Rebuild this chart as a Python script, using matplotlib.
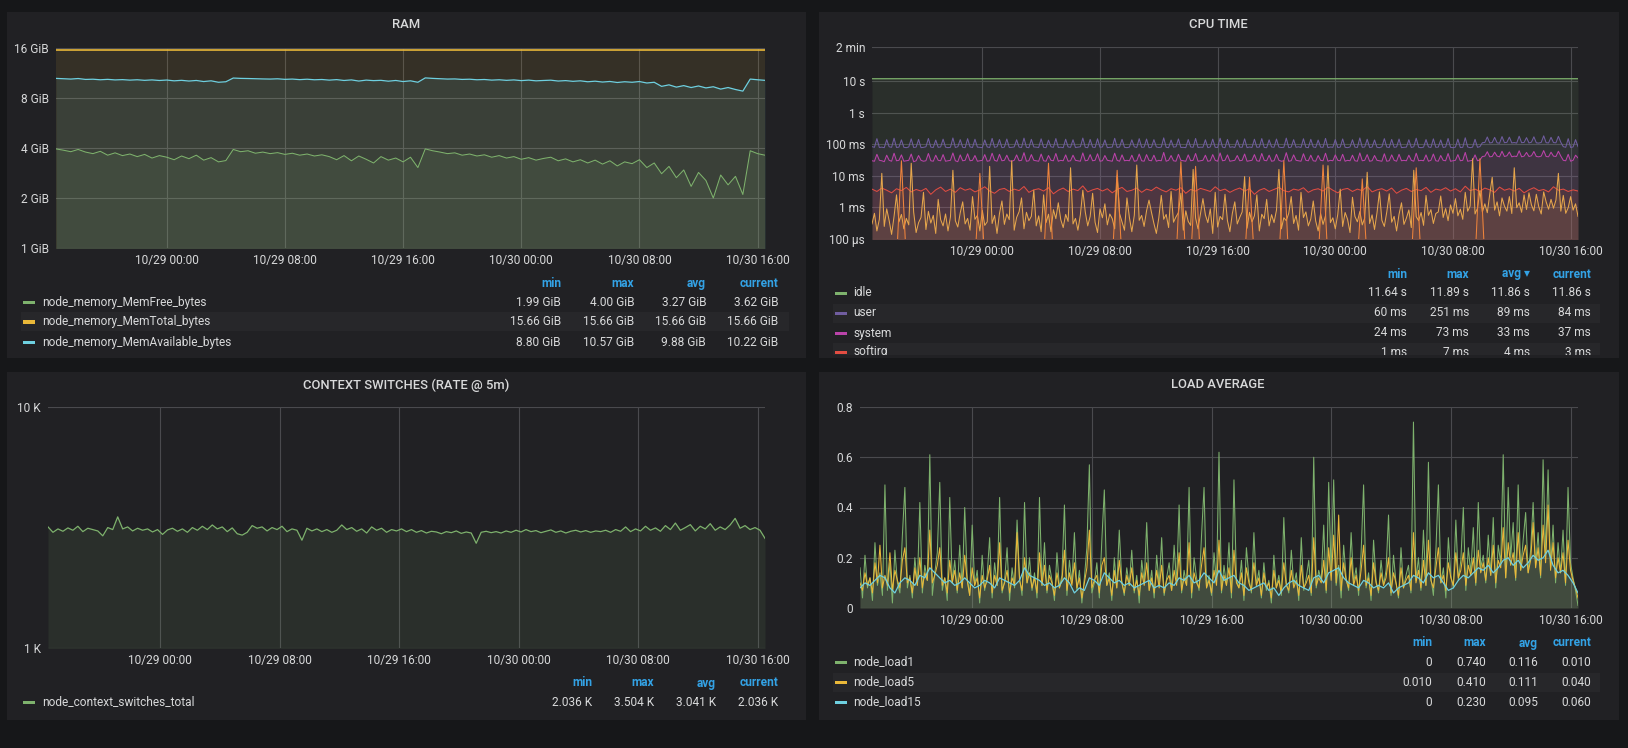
"""Grafana-style node exporter dashboard: RAM, CPU time, context switches, load average."""
from datetime import datetime

import numpy as np
import matplotlib
matplotlib.use("Agg")
import matplotlib.pyplot as plt
import matplotlib.dates as mdates
from matplotlib.patches import Rectangle
from matplotlib.ticker import FixedLocator, FixedFormatter, NullLocator

# ---------------------------------------------------------------- data
T_START = datetime(2019, 10, 28, 16, 30)
T_END = datetime(2019, 10, 30, 16, 30)

# RAM (GiB), one sample every 30 min
mem_total = [15.66, 15.66]
mem_available = [
    10.50, 10.45, 10.40, 10.48, 10.35, 10.38, 10.30, 10.36, 10.28, 10.32,
    10.25, 10.30, 10.22, 10.28, 10.20, 10.26, 10.15, 10.22, 10.12, 10.20,
    10.05, 10.15, 9.95, 10.02, 10.55, 10.50, 10.48, 10.45, 10.42, 10.40,
    10.44, 10.36, 10.40, 10.32, 10.38, 10.30, 10.34, 10.25, 10.32, 10.20,
    10.28, 10.12, 10.25, 10.18, 10.22, 10.10, 10.20, 10.05, 10.15, 9.95,
    10.57, 10.50, 10.45, 10.40, 10.42, 10.35, 10.38, 10.30, 10.34, 10.25,
    10.30, 10.22, 10.28, 10.18, 10.25, 10.15, 10.20, 10.24, 10.12, 10.18,
    10.08, 10.15, 10.02, 10.10, 9.98, 10.06, 9.92, 10.02, 9.95, 10.05,
    9.85, 9.95, 9.40, 9.60, 9.30, 9.50, 9.25, 9.45, 9.20, 9.35,
    9.05, 9.25, 9.00, 8.80, 10.40, 10.30, 10.22,
]
mem_free = [
    3.95, 3.88, 3.80, 3.92, 3.78, 3.70, 3.82, 3.62, 3.74, 3.60,
    3.68, 3.55, 3.66, 3.48, 3.60, 3.52, 3.40, 3.58, 3.45, 3.62,
    3.38, 3.50, 3.30, 3.36, 3.92, 3.80, 3.85, 3.72, 3.78, 3.70,
    3.75, 3.66, 3.72, 3.62, 3.68, 3.58, 3.64, 3.55, 3.40, 3.60,
    3.35, 3.58, 3.42, 3.25, 3.55, 3.38, 3.48, 3.30, 3.52, 3.05,
    3.95, 3.85, 3.78, 3.70, 3.74, 3.62, 3.68, 3.58, 3.64, 3.52,
    3.60, 3.48, 3.55, 3.42, 3.50, 3.38, 3.46, 3.52, 3.35, 3.44,
    3.30, 3.40, 3.25, 3.38, 3.20, 3.35, 3.12, 3.30, 3.22, 3.40,
    3.05, 3.25, 2.80, 3.10, 2.65, 2.95, 2.35, 2.85, 2.55, 2.00,
    2.75, 2.40, 2.70, 2.10, 3.85, 3.70, 3.62,
]

# CPU time: idle every 4 h, user/system/iowait every 10 min, the rest every 20 min
cpu_idle_s = [11.86, 11.87, 11.85, 11.86, 11.88, 11.86, 11.85,
              11.87, 11.86, 11.84, 11.86, 11.87, 11.86]
cpu_user_ms = [
    84, 80, 150, 79, 81, 78, 140, 83, 80, 155,
    79, 81, 138, 80, 78, 82, 148, 79, 81, 142,
    78, 80, 83, 152, 81, 79, 136, 80, 82, 145,
    81, 78, 80, 158, 79, 83, 140, 80, 78, 150,
    82, 79, 144, 81, 80, 78, 137, 82, 79, 153,
    80, 83, 141, 78, 81, 146, 79, 80, 82, 139,
    81, 79, 156, 80, 78, 143, 82, 81, 79, 148,
    80, 78, 135, 83, 80, 151, 79, 81, 78, 144,
    82, 80, 139, 79, 81, 83, 157, 80, 78, 142,
    81, 79, 149, 80, 82, 137, 78, 80, 81, 154,
    79, 82, 143, 80, 78, 81, 138, 83, 79, 150,
    80, 81, 146, 78, 80, 140, 82, 79, 81, 159,
    80, 78, 136, 81, 83, 147, 79, 80, 78, 141,
    82, 80, 152, 79, 81, 80, 139, 78, 82, 145,
    80, 79, 155, 81, 78, 142, 80, 83, 79, 137,
    81, 80, 148, 78, 82, 79, 144, 80, 81, 151,
    79, 78, 138, 82, 80, 146, 81, 79, 80, 156,
    78, 81, 140, 80, 83, 79, 149, 80, 78, 143,
    82, 79, 136, 81, 80, 153, 78, 82, 80, 141,
    79, 81, 147, 80, 78, 82, 139, 81, 79, 158,
    80, 82, 144, 79, 81, 137, 80, 78, 83, 150,
    81, 79, 142, 80, 82, 146, 78, 80, 81, 139,
    79, 83, 155, 80, 78, 81, 141, 82, 79, 148,
    80, 81, 137, 79, 82, 152, 80, 78, 81, 145,
    79, 80, 160, 82, 78, 81, 143, 80, 84, 112,
    114, 170, 110, 113, 165, 111, 108, 175, 112, 115,
    168, 110, 113, 109, 180, 112, 114, 162, 110, 116,
    172, 111, 109, 114, 185, 112, 110, 166, 113, 111,
    178, 115, 84, 80, 150, 79, 82, 140, 84,
]
cpu_system_ms = [
    30, 29, 48, 31, 30, 28, 45, 31, 29, 52,
    30, 31, 46, 29, 30, 31, 49, 28, 30, 44,
    31, 29, 30, 51, 30, 29, 45, 31, 30, 47,
    29, 30, 31, 53, 30, 28, 46, 30, 31, 50,
    30, 31, 44, 29, 30, 31, 47, 29, 30, 52,
    31, 29, 48, 30, 31, 45, 30, 29, 31, 46,
    30, 31, 54, 29, 30, 47, 31, 30, 29, 49,
    30, 29, 44, 31, 30, 51, 29, 31, 30, 46,
    29, 30, 45, 31, 30, 29, 53, 30, 31, 47,
    30, 31, 50, 29, 30, 44, 31, 30, 29, 52,
    31, 29, 46, 30, 31, 30, 45, 29, 30, 49,
    30, 29, 47, 31, 30, 45, 29, 31, 30, 55,
    29, 31, 44, 30, 29, 48, 31, 30, 29, 46,
    30, 31, 51, 29, 30, 31, 45, 29, 30, 47,
    31, 29, 53, 30, 31, 46, 29, 30, 31, 44,
    30, 31, 49, 29, 30, 31, 47, 30, 29, 51,
    31, 30, 45, 29, 30, 48, 31, 29, 30, 54,
    29, 30, 46, 31, 30, 29, 50, 31, 30, 45,
    30, 29, 44, 31, 30, 52, 29, 31, 30, 46,
    31, 30, 48, 29, 31, 30, 45, 30, 29, 53,
    30, 31, 47, 29, 30, 44, 31, 30, 29, 50,
    29, 30, 46, 31, 29, 48, 30, 31, 30, 45,
    31, 29, 52, 30, 31, 30, 46, 29, 31, 49,
    30, 29, 44, 31, 30, 51, 29, 30, 31, 47,
    30, 31, 55, 29, 30, 31, 46, 30, 32, 41,
    42, 58, 40, 41, 56, 42, 40, 60, 41, 43,
    57, 40, 42, 41, 62, 40, 42, 55, 41, 43,
    59, 41, 40, 42, 63, 41, 40, 56, 42, 41,
    60, 42, 31, 30, 48, 29, 31, 45, 37,
]
cpu_softirq_ms = [
    3.8, 3.2, 4.1, 3.5, 2.9, 3.9, 3.4, 4.3, 3.1, 3.7,
    3.3, 4.0, 2.6, 3.6, 4.4, 3.2, 3.8, 3.0, 4.2, 3.5,
    3.9, 3.1, 3.6, 4.5, 3.3, 2.8, 3.7, 4.0, 3.2, 3.8,
    3.4, 4.6, 3.0, 3.6, 3.9, 3.3, 4.2, 2.7, 3.5, 4.1,
    3.2, 3.8, 3.4, 4.8, 3.1, 3.6, 4.0, 3.3, 3.9, 2.9,
    3.7, 4.3, 3.2, 3.5, 4.1, 3.0, 3.8, 3.4, 4.4, 3.6,
    3.1, 3.9, 3.5, 4.2, 2.8, 3.7, 3.3, 4.0, 3.6, 3.2,
    4.5, 3.4, 3.8, 3.0, 3.6, 4.1, 3.3, 3.9, 2.6, 3.5,
    4.0, 3.2, 3.7, 4.3, 3.4, 3.1, 3.8, 3.5, 4.2, 3.0,
    3.6, 3.9, 3.3, 4.4, 3.5, 2.9, 3.7, 4.0, 3.2, 3.8,
    3.4, 4.6, 3.1, 3.6, 3.9, 3.3, 4.1, 2.8, 3.5, 4.0,
    3.2, 3.7, 3.4, 4.3, 3.0, 3.8, 3.5, 4.2, 3.3, 3.9,
    3.1, 4.7, 3.4, 3.8, 3.2, 4.1, 3.6, 3.0, 4.4, 3.5,
    3.9, 3.3, 4.0, 2.9, 3.6, 4.2, 3.4, 3.7, 3.1, 4.5,
    3.5, 3.8, 3.2, 3.6, 3.3,
]
cpu_iowait_us = [
    300, 650, 180, 420, 12000, 250, 900, 380, 140, 520,
    2500, 350, 600, 210, 450, 280, 25000, 700, 160, 330,
    480, 3000, 200, 750, 320, 560, 150, 1800, 410, 260,
    620, 180, 500, 15000, 380, 240, 680, 1500, 300, 450,
    190, 2200, 420, 560, 180, 800, 270, 350, 20000, 310,
    560, 150, 640, 1600, 290, 620, 410, 30000, 190, 480,
    730, 2000, 210, 700, 380, 520, 3500, 260, 540, 170,
    2500, 330, 610, 170, 850, 440, 1400, 410, 230, 600,
    360, 18000, 300, 450, 190, 580, 3500, 720, 260, 520,
    2800, 340, 160, 900, 470, 1300, 280, 620, 440, 210,
    10000, 630, 350, 190, 2000, 480, 170, 560, 22000, 390,
    560, 250, 780, 1700, 700, 310, 150, 470, 2400, 420,
    600, 230, 3200, 340, 500, 680, 2800, 190, 780, 360,
    270, 16000, 460, 210, 640, 1900, 580, 330, 900, 150,
    3000, 240, 520, 410, 2600, 380, 170, 650, 1500, 300,
    480, 720, 9500, 220, 700, 350, 540, 2500, 180, 610,
    440, 1800, 260, 590, 330, 820, 16000, 210, 470, 380,
    650, 2200, 310, 560, 190, 3000, 480, 720, 260, 430,
    1600, 370, 180, 640, 290, 540, 21000, 330, 470, 210,
    600, 3800, 250, 690, 420, 160, 2100, 520, 350, 740,
    280, 460, 13000, 310, 580, 200, 670, 3100, 390, 250,
    720, 2700, 340, 520, 180, 610, 1400, 290, 460, 830,
    230, 15000, 510, 380, 690, 270, 2400, 560, 850, 310,
    640, 720, 2300, 480, 920, 380, 1200, 650, 1900, 540,
    880, 420, 3000, 760, 1100, 35000, 620, 950, 3400, 710,
    1300, 680, 2600, 9000, 820, 1500, 540, 2000, 1100, 760,
    2200, 640, 18000, 980, 1400, 700, 2500, 860, 2900, 1200,
    780, 2600, 1050, 620, 3100, 1500, 880, 1800, 940, 1700,
    12000, 760, 2400, 650, 980, 2200, 820, 1300, 520,
]
cpu_irq_us = [
    20, 20, 20, 20, 20, 20, 30000, 20, 20, 20,
    20, 20, 20, 20, 20, 20, 20, 20, 20, 20,
    20, 20, 12000, 20, 20, 20, 20, 20, 20, 20,
    20, 20, 20, 20, 20, 20, 25000, 20, 20, 20,
    20, 20, 20, 20, 20, 20, 20, 20, 20, 20,
    15000, 20, 20, 20, 20, 20, 20, 20, 20, 20,
    20, 20, 20, 28000, 20, 20, 20000, 20, 20, 20,
    20, 20, 20, 20, 20, 20, 20, 9000, 20, 20,
    20, 20, 20, 20, 30000, 20, 20, 20, 20, 20,
    20, 20, 22000, 20, 20, 20, 20, 20, 20, 20,
    8000, 20, 20, 20, 20, 20, 20, 20, 20, 20,
    20, 18000, 20, 20, 20, 20, 20, 20, 20, 20,
    20, 20, 20, 20, 35000, 20, 20, 20, 20, 20,
    20, 20, 20, 20, 20, 20, 20, 20, 20, 20,
    20, 20, 20, 20, 20,
]

# context switches (K/s), one sample every 20 min
ctx_k = [
    3.18, 3.02, 3.12, 3.05, 3.15, 3.08, 3.20, 3.04, 3.14, 3.10,
    3.06, 2.92, 3.16, 3.10, 3.50, 3.12, 3.18, 3.06, 3.14, 3.08,
    3.12, 3.03, 3.10, 2.96, 3.09, 3.14, 3.05, 3.12, 3.02, 3.16,
    3.08, 3.20, 3.10, 3.24, 3.12, 3.18, 3.04, 3.15, 2.98, 2.94,
    3.02, 3.22, 3.14, 3.18, 3.06, 3.16, 3.10, 3.20, 3.04, 3.12,
    3.08, 2.80, 3.14, 3.06, 3.12, 3.04, 3.10, 3.02, 3.08, 3.24,
    3.10, 3.16, 3.05, 3.12, 3.00, 3.18, 3.08, 3.14, 3.02, 3.10,
    3.06, 3.12, 3.04, 3.10, 3.02, 3.07, 3.00, 3.05, 3.03, 2.98,
    3.04, 3.01, 3.06, 2.99, 3.03, 3.00, 2.72, 3.02, 3.05, 3.01,
    3.04, 3.00, 3.06, 3.02, 3.08, 3.03, 3.10, 3.04, 3.07, 3.01,
    3.05, 3.09, 3.02, 3.06, 3.00, 3.05, 3.08, 3.03, 3.07, 3.02,
    3.06, 3.04, 3.08, 3.02, 3.10, 3.05, 3.18, 3.04, 3.12, 3.06,
    3.20, 3.08, 3.15, 3.05, 3.22, 3.10, 3.30, 3.08, 3.16, 3.25,
    3.06, 3.20, 3.12, 3.28, 3.08, 3.18, 3.10, 3.24, 3.45, 3.14,
    3.22, 3.10, 3.16, 3.08, 2.85,
]

# load average: load1/load5 every 10 min, load15 every 20 min
load1 = [
    0.16, 0.04, 0.21, 0.08, 0.12, 0.03, 0.26, 0.09, 0.14, 0.05,
    0.49, 0.07, 0.18, 0.02, 0.23, 0.10, 0.06, 0.29, 0.48, 0.08,
    0.13, 0.04, 0.20, 0.09, 0.42, 0.06, 0.17, 0.11, 0.61, 0.05,
    0.14, 0.22, 0.50, 0.07, 0.12, 0.03, 0.44, 0.10, 0.19, 0.06,
    0.25, 0.08, 0.40, 0.12, 0.05, 0.33, 0.09, 0.15, 0.02, 0.21,
    0.07, 0.13, 0.28, 0.04, 0.18, 0.09, 0.44, 0.06, 0.11, 0.24,
    0.03, 0.16, 0.08, 0.35, 0.12, 0.05, 0.42, 0.10, 0.20, 0.07,
    0.14, 0.04, 0.44, 0.09, 0.26, 0.06, 0.17, 0.11, 0.03, 0.22,
    0.08, 0.13, 0.41, 0.05, 0.19, 0.10, 0.30, 0.07, 0.15, 0.02,
    0.12, 0.24, 0.57, 0.06, 0.10, 0.18, 0.04, 0.27, 0.47, 0.09,
    0.14, 0.03, 0.20, 0.08, 0.31, 0.11, 0.05, 0.16, 0.09, 0.23,
    0.06, 0.13, 0.02, 0.19, 0.10, 0.34, 0.07, 0.15, 0.04, 0.21,
    0.09, 0.28, 0.05, 0.12, 0.18, 0.07, 0.25, 0.10, 0.41, 0.06,
    0.15, 0.09, 0.48, 0.04, 0.20, 0.12, 0.07, 0.29, 0.48, 0.08,
    0.13, 0.05, 0.22, 0.10, 0.62, 0.06, 0.17, 0.09, 0.26, 0.04,
    0.51, 0.11, 0.08, 0.19, 0.03, 0.24, 0.12, 0.06, 0.30, 0.09,
    0.15, 0.04, 0.18, 0.07, 0.11, 0.02, 0.21, 0.08, 0.13, 0.05,
    0.36, 0.10, 0.06, 0.23, 0.09, 0.14, 0.03, 0.28, 0.07, 0.12,
    0.19, 0.05, 0.60, 0.08, 0.15, 0.11, 0.33, 0.06, 0.50, 0.13,
    0.51, 0.09, 0.17, 0.04, 0.25, 0.12, 0.07, 0.30, 0.10, 0.16,
    0.05, 0.22, 0.49, 0.08, 0.14, 0.03, 0.27, 0.11, 0.06, 0.19,
    0.09, 0.15, 0.37, 0.05, 0.21, 0.10, 0.04, 0.24, 0.08, 0.13,
    0.17, 0.06, 0.74, 0.11, 0.20, 0.07, 0.31, 0.09, 0.58, 0.12,
    0.05, 0.23, 0.49, 0.10, 0.16, 0.04, 0.28, 0.13, 0.08, 0.35,
    0.11, 0.19, 0.40, 0.07, 0.24, 0.14, 0.32, 0.09, 0.42, 0.16,
    0.21, 0.10, 0.29, 0.13, 0.36, 0.08, 0.25, 0.18, 0.61, 0.12,
    0.48, 0.20, 0.34, 0.11, 0.49, 0.15, 0.27, 0.38, 0.14, 0.23,
    0.42, 0.17, 0.30, 0.12, 0.59, 0.21, 0.55, 0.16, 0.33, 0.10,
    0.26, 0.14, 0.31, 0.09, 0.48, 0.18, 0.12, 0.07, 0.01,
]
load5 = [
    0.10, 0.07, 0.14, 0.09, 0.12, 0.06, 0.18, 0.10, 0.25, 0.08,
    0.13, 0.09, 0.22, 0.07, 0.15, 0.11, 0.08, 0.19, 0.24, 0.10,
    0.12, 0.06, 0.16, 0.09, 0.20, 0.08, 0.14, 0.11, 0.31, 0.10,
    0.13, 0.17, 0.24, 0.09, 0.12, 0.06, 0.19, 0.10, 0.15, 0.07,
    0.14, 0.08, 0.21, 0.11, 0.05, 0.16, 0.09, 0.12, 0.04, 0.13,
    0.08, 0.11, 0.17, 0.06, 0.13, 0.09, 0.26, 0.07, 0.10, 0.15,
    0.06, 0.12, 0.09, 0.30, 0.11, 0.07, 0.20, 0.10, 0.14, 0.08,
    0.12, 0.06, 0.22, 0.09, 0.17, 0.07, 0.13, 0.10, 0.05, 0.14,
    0.08, 0.11, 0.23, 0.07, 0.14, 0.09, 0.18, 0.08, 0.12, 0.04,
    0.10, 0.16, 0.31, 0.08, 0.11, 0.13, 0.06, 0.17, 0.20, 0.09,
    0.12, 0.05, 0.15, 0.08, 0.19, 0.10, 0.06, 0.13, 0.09, 0.16,
    0.07, 0.11, 0.05, 0.14, 0.09, 0.18, 0.07, 0.12, 0.06, 0.15,
    0.08, 0.17, 0.06, 0.11, 0.13, 0.07, 0.15, 0.09, 0.22, 0.07,
    0.12, 0.09, 0.26, 0.06, 0.14, 0.10, 0.08, 0.17, 0.24, 0.08,
    0.11, 0.06, 0.15, 0.09, 0.27, 0.07, 0.13, 0.09, 0.16, 0.06,
    0.23, 0.10, 0.08, 0.14, 0.05, 0.16, 0.10, 0.07, 0.18, 0.09,
    0.12, 0.05, 0.14, 0.08, 0.10, 0.04, 0.15, 0.08, 0.11, 0.06,
    0.18, 0.09, 0.07, 0.15, 0.08, 0.11, 0.05, 0.17, 0.08, 0.10,
    0.13, 0.06, 0.28, 0.09, 0.12, 0.10, 0.19, 0.07, 0.24, 0.11,
    0.29, 0.10, 0.37, 0.07, 0.18, 0.11, 0.08, 0.20, 0.09, 0.13,
    0.07, 0.15, 0.25, 0.09, 0.12, 0.05, 0.18, 0.10, 0.07, 0.14,
    0.09, 0.12, 0.20, 0.06, 0.14, 0.10, 0.05, 0.16, 0.08, 0.11,
    0.13, 0.07, 0.30, 0.10, 0.15, 0.08, 0.19, 0.09, 0.27, 0.11,
    0.08, 0.16, 0.24, 0.10, 0.13, 0.07, 0.18, 0.12, 0.09, 0.22,
    0.12, 0.15, 0.22, 0.09, 0.17, 0.13, 0.20, 0.10, 0.23, 0.14,
    0.18, 0.11, 0.20, 0.13, 0.25, 0.10, 0.19, 0.16, 0.32, 0.12,
    0.26, 0.17, 0.22, 0.12, 0.30, 0.15, 0.21, 0.25, 0.14, 0.19,
    0.34, 0.16, 0.24, 0.13, 0.33, 0.18, 0.41, 0.15, 0.26, 0.12,
    0.20, 0.14, 0.22, 0.10, 0.27, 0.15, 0.11, 0.08, 0.04,
]
load15 = [
    0.08, 0.10, 0.09, 0.11, 0.13, 0.12, 0.08, 0.06, 0.10, 0.12,
    0.11, 0.09, 0.13, 0.12, 0.16, 0.14, 0.12, 0.10, 0.11, 0.09,
    0.10, 0.12, 0.10, 0.08, 0.09, 0.11, 0.10, 0.08, 0.12, 0.11,
    0.10, 0.09, 0.11, 0.16, 0.13, 0.12, 0.11, 0.09, 0.10, 0.08,
    0.09, 0.12, 0.10, 0.06, 0.08, 0.07, 0.12, 0.11, 0.09, 0.14,
    0.12, 0.10, 0.11, 0.09, 0.10, 0.08, 0.09, 0.10, 0.11, 0.08,
    0.09, 0.08, 0.10, 0.09, 0.12, 0.11, 0.13, 0.10, 0.11, 0.14,
    0.12, 0.10, 0.15, 0.11, 0.12, 0.13, 0.10, 0.09, 0.07, 0.08,
    0.09, 0.10, 0.07, 0.08, 0.05, 0.08, 0.10, 0.11, 0.09, 0.08,
    0.07, 0.12, 0.13, 0.10, 0.14, 0.15, 0.16, 0.12, 0.10, 0.09,
    0.08, 0.11, 0.10, 0.08, 0.09, 0.08, 0.10, 0.06, 0.08, 0.09,
    0.10, 0.13, 0.12, 0.10, 0.14, 0.12, 0.13, 0.10, 0.07, 0.08,
    0.11, 0.13, 0.12, 0.14, 0.16, 0.15, 0.17, 0.14, 0.16, 0.19,
    0.20, 0.17, 0.19, 0.16, 0.18, 0.21, 0.19, 0.20, 0.23, 0.17,
    0.14, 0.15, 0.13, 0.10, 0.06,
]

# legend tables (text as shown by the dashboard)
ram_names = ["node_memory_MemFree_bytes", "node_memory_MemTotal_bytes",
             "node_memory_MemAvailable_bytes"]
ram_stats = [["1.99 GiB", "4.00 GiB", "3.27 GiB", "3.62 GiB"],
             ["15.66 GiB", "15.66 GiB", "15.66 GiB", "15.66 GiB"],
             ["8.80 GiB", "10.57 GiB", "9.88 GiB", "10.22 GiB"]]
cpu_names = ["idle", "user", "system", "softirq"]
cpu_stats = [["11.64 s", "11.89 s", "11.86 s", "11.86 s"],
             ["60 ms", "251 ms", "89 ms", "84 ms"],
             ["24 ms", "73 ms", "33 ms", "37 ms"],
             ["1 ms", "7 ms", "4 ms", "3 ms"]]
ctx_names = ["node_context_switches_total"]
ctx_stats = [["2.036 K", "3.504 K", "3.041 K", "2.036 K"]]
load_names = ["node_load1", "node_load5", "node_load15"]
load_stats = [["0", "0.740", "0.116", "0.010"],
              ["0.010", "0.410", "0.111", "0.040"],
              ["0", "0.230", "0.095", "0.060"]]

# ---------------------------------------------------------------- style
W, H = 1628, 748
BG, PANEL, STRIPE = "#161719", "#212124", "#27272a"
TEXT, HEAD, GRID = "#d8d9da", "#33a2e5", "#4a4a4e"
GREEN, YELLOW, CYAN = "#7eb26d", "#eab839", "#6ed0e0"
ORANGE, RED, PURPLE, VIOLET = "#ef843c", "#e24d42", "#ba43a9", "#705da0"
TAN = "#e6a64c"
FS = 8.6

plt.rcParams["font.family"] = ["Roboto", "DejaVu Sans"]

fig = plt.figure(figsize=(W / 100, H / 100), dpi=100, facecolor=BG)

T0 = mdates.date2num(T_START)
T1 = mdates.date2num(T_END)


def times(values):
    return T0 + np.linspace(0, T1 - T0, len(values))


def fig_rect(x0, y0, x1, y1, color, z=0):
    fig.patches.append(Rectangle((x0 / W, 1 - y1 / H), (x1 - x0) / W, (y1 - y0) / H,
                                 transform=fig.transFigure, facecolor=color,
                                 edgecolor="none", zorder=z))


def fig_txt(x, y, s, **kw):
    kw.setdefault("color", TEXT)
    kw.setdefault("fontsize", FS)
    fig.text(x / W, 1 - y / H, s, va="center", **kw)


def make_axes(x0, y0, x1, y1):
    ax = fig.add_axes([x0 / W, 1 - y1 / H, (x1 - x0) / W, (y1 - y0) / H])
    ax.set_facecolor("none")
    for sp in ax.spines.values():
        sp.set_visible(False)
    ax.xaxis_date()
    ax.set_xlim(T0, T1)
    ax.xaxis.set_major_locator(mdates.HourLocator(byhour=[0, 8, 16]))
    ax.xaxis.set_major_formatter(mdates.DateFormatter("%m/%d %H:%M"))
    ax.tick_params(length=0, labelcolor=TEXT, labelsize=FS)
    ax.tick_params(axis="x", pad=4)
    ax.tick_params(axis="y", pad=5)
    ax.grid(True, color=GRID, lw=0.8)
    ax.set_axisbelow(True)
    return ax


def set_yticks(ax, vals, labels):
    ax.yaxis.set_major_locator(FixedLocator(vals))
    ax.yaxis.set_major_formatter(FixedFormatter(labels))
    ax.yaxis.set_minor_locator(NullLocator())


def series(ax, values, color, base, lw=0.75):
    t = times(values)
    ax.fill_between(t, values, base, color=color, alpha=0.1, lw=0)
    ax.plot(t, values, color=color, lw=lw)


def legend(header_y, row_ys, names, colors, stats, cols, sw_x, tx_x,
           stripes, stripe_x, headers=("min", "max", "avg", "current")):
    for r in stripes:
        fig_rect(stripe_x[0], row_ys[r] - 9.5, stripe_x[1], row_ys[r] + 9.5, STRIPE, z=1)
    for h, cx in zip(headers, cols):
        fig_txt(cx, header_y, h, ha="right", color=HEAD, fontweight="bold")
    for y, name, c, st in zip(row_ys, names, colors, stats):
        fig_rect(sw_x, y - 1.5, sw_x + 12, y + 2, c, z=2)
        fig_txt(tx_x, y, name, ha="left")
        for s, cx in zip(st, cols):
            fig_txt(cx, y, s, ha="right")


# panels (behind the axes)
fig_rect(7, 12, 806, 358, PANEL, z=-2)
fig_rect(819, 12, 1619, 358, PANEL, z=-2)
fig_rect(7, 372, 806, 720, PANEL, z=-2)
fig_rect(819, 372, 1619, 720, PANEL, z=-2)

for x, y, title in [(406, 25, "RAM"), (1218, 25, "CPU TIME"),
                    (406, 385, "CONTEXT SWITCHES (RATE @ 5m)"),
                    (1218, 385, "LOAD AVERAGE")]:
    fig_txt(x, y, title, ha="center", fontsize=9.4, fontweight="medium")

# ---------------------------------------------------------------- RAM
ax = make_axes(56, 48, 765, 248)
ax.set_yscale("log", base=2)
ax.set_ylim(1, 16)
set_yticks(ax, [1, 2, 4, 8, 16], ["1 GiB", "2 GiB", "4 GiB", "8 GiB", "16 GiB"])
series(ax, mem_free, GREEN, 0.5)
series(ax, mem_total, YELLOW, 0.5, lw=1.2)
series(ax, mem_available, CYAN, 0.5, lw=0.9)
legend(283, [302, 322, 342], ram_names, [GREEN, YELLOW, CYAN], ram_stats,
       [561, 634, 706, 778], 23, 42, [1], (21, 789))

# ---------------------------------------------------------------- CPU TIME
ax = make_axes(872, 47, 1578, 239)
ax.set_yscale("log", nonpositive="clip")
ax.set_ylim(1e-4, 120)
set_yticks(ax, [1e-4, 1e-3, 1e-2, 0.1, 1, 10, 120],
           ["100 µs", "1 ms", "10 ms", "100 ms", "1 s", "10 s", "2 min"])
series(ax, cpu_idle_s, GREEN, 1e-6, lw=0.9)
series(ax, np.array(cpu_user_ms) / 1e3, VIOLET, 1e-6)
series(ax, np.array(cpu_system_ms) / 1e3, PURPLE, 1e-6)
series(ax, np.array(cpu_softirq_ms) / 1e3, RED, 1e-6)
series(ax, np.array(cpu_iowait_us) / 1e6, TAN, 1e-6)
series(ax, np.array(cpu_irq_us) / 1e6, ORANGE, 1e-6)
legend(274, [293, 313, 333, 352], cpu_names, [GREEN, VIOLET, PURPLE, RED], cpu_stats,
       [1407, 1469, 1530, 1591], 835, 853, [1, 3], (833, 1600),
       headers=("min", "max", "avg \u25be", "current"))
# legend box is scrolled: last row is cut by the panel edge
fig_rect(819, 355, 1619, 358, PANEL, z=5)
fig_rect(819, 358, 1619, 372, BG, z=5)

# ---------------------------------------------------------------- CONTEXT SWITCHES
ax = make_axes(48, 407, 765, 648)
ax.set_yscale("log")
ax.set_ylim(1000, 10000)
set_yticks(ax, [1000, 10000], ["1 K", "10 K"])
series(ax, np.array(ctx_k) * 1000, GREEN, 100, lw=0.9)
legend(683, [702], ctx_names, [GREEN], ctx_stats, [592, 654, 716, 778], 23, 42, [], (21, 789))

# ---------------------------------------------------------------- LOAD AVERAGE
ax = make_axes(860, 407, 1578, 608)
ax.set_ylim(0, 0.8)
set_yticks(ax, [0, 0.2, 0.4, 0.6, 0.8], ["0", "0.2", "0.4", "0.6", "0.8"])
series(ax, load1, GREEN, 0)
series(ax, load5, YELLOW, 0)
series(ax, load15, CYAN, 0, lw=0.9)
legend(643, [662, 682, 702], load_names, [GREEN, YELLOW, CYAN], load_stats,
       [1432, 1486, 1538, 1591], 835, 853, [1], (833, 1600))

fig.savefig("out.png", dpi=100, facecolor=BG)
